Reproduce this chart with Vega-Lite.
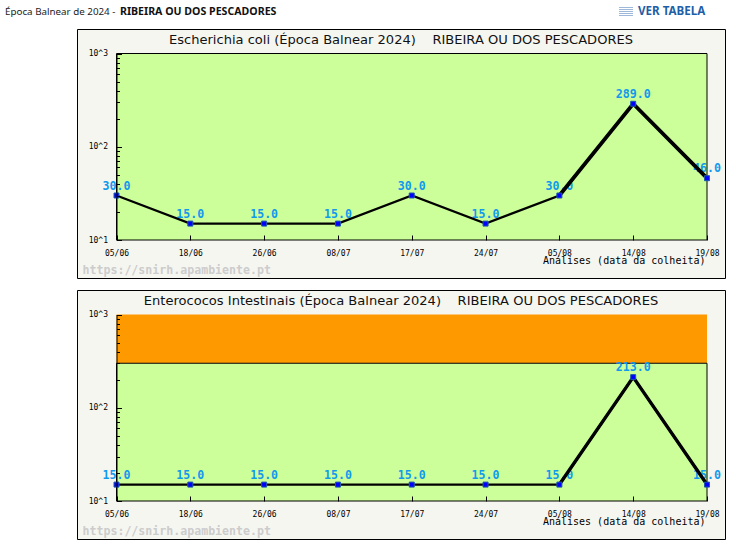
{"$schema":"https://vega.github.io/schema/vega-lite/v6.json","background":"#ffffff","padding":{"left":5,"top":0,"right":0,"bottom":0},"spacing":6,"vconcat":[
{"width":648,"height":22,"view":{"stroke":null,"fill":null},"resolve":{"scale":{"x":"independent"}},"layer":[
{"data":{"values":[{"part":"Época Balnear de 2024 -"}]},"mark":{"type":"text","align":"left","font":"Noto Sans","fontSize":9.8,"color":"#222222","dy":1},"encoding":{"x":{"field":"part","type":"nominal","scale":{"type":"point","range":[-72,-72]},"axis":null},"text":{"field":"part"}}},
{"data":{"values":[{"part":"RIBEIRA OU DOS PESCADORES"}]},"mark":{"type":"text","align":"left","font":"Noto Sans","fontSize":10.6,"fontWeight":"bold","color":"#111111","dy":1},"encoding":{"x":{"field":"part","type":"nominal","scale":{"type":"point","range":[43,43]},"axis":null},"text":{"field":"part"}}},
{"data":{"values":[{"part":"VER TABELA"}]},"mark":{"type":"text","align":"left","font":"Noto Sans","fontSize":11.6,"fontWeight":"bold","color":"#1F5FA8","dy":1},"encoding":{"x":{"field":"part","type":"nominal","scale":{"type":"point","range":[561,561]},"axis":null},"text":{"field":"part"}}},
{"data":{"values":[{"a":0,"b":14,"r":"1"},{"a":0,"b":14,"r":"2"},{"a":0,"b":14,"r":"3"},{"a":0,"b":14,"r":"4"},{"a":0,"b":14,"r":"5"}]},"mark":{"type":"rule","color":"#9DB8D8","strokeWidth":1},"encoding":{"x":{"field":"a","type":"quantitative","scale":{"domain":[0,14],"range":[542,556]},"axis":null},"x2":{"field":"b"},"y":{"field":"r","type":"ordinal","scale":{"type":"point","range":[7.5,15.5],"padding":0},"axis":null}}}
]},
{"vconcat":[
{"width":648,"height":249,"view":{"fill":"#F6F6F1","stroke":"#000000"},
"title":{"text":"Escherichia coli (Época Balnear 2024)\u00a0\u00a0\u00a0\u00a0RIBEIRA OU DOS PESCADORES","font":"DejaVu Sans","fontSize":13.05,"fontWeight":"normal","color":"#111111","anchor":"middle","frame":"group","offset":-18},
"data":{"values":[{"d":"05/06","v":30},{"d":"18/06","v":15},{"d":"26/06","v":15},{"d":"08/07","v":15},{"d":"17/07","v":30},{"d":"24/07","v":15},{"d":"05/08","v":30},{"d":"14/08","v":289},{"d":"19/08","v":46}]},
"resolve":{"axis":{"x":"independent","y":"independent"}},
"layer":[
{"data":{"values":[{"x1":"05/06","x2":"19/08","y1":10,"y2":1000}]},"mark":{"type":"rect","fill":"#CCFF99","stroke":"#000000","strokeWidth":1},"encoding":{"x":{"field":"x1","type":"ordinal","sort":null,"scale":{"type":"point","padding":0,"range":[39.5,630],"domain":["05/06","18/06","26/06","08/07","17/07","24/07","05/08","14/08","19/08"]},"axis":null},"x2":{"field":"x2"},"y":{"field":"y1","type":"quantitative","scale":{"type":"log","domain":[10,1000],"range":[211,24.5],"nice":false},"axis":null},"y2":{"field":"y2"}}},
{"mark":{"type":"text","font":"DejaVu Sans Mono","fontWeight":"bold","fontSize":11.6,"color":"#1199EE","dy":-9},"encoding":{"x":{"field":"d","type":"ordinal","sort":null,"axis":null},"y":{"field":"v","type":"quantitative","axis":null},"text":{"field":"v","format":".1f"}}},
{"transform":[{"filter":{"field":"d","oneOf":["05/08","14/08","19/08"]}}],"mark":{"type":"line","color":"#000000","strokeWidth":3.8},"encoding":{"x":{"field":"d","type":"ordinal","sort":null,"axis":null},"y":{"field":"v","type":"quantitative","axis":null}}},
{"mark":{"type":"line","color":"#000000","strokeWidth":2.2},"encoding":{"x":{"field":"d","type":"ordinal","sort":null,"axis":{"orient":"bottom","offset":-38,"zindex":1,"domain":false,"tickSize":-5,"tickColor":"#000000","labelFont":"DejaVu Sans Mono","labelFontSize":8,"labelColor":"#000000","labelAngle":0,"labelPadding":14.5,"grid":false,"title":"Análises (data da colheita)","titleFont":"DejaVu Sans Mono","titleFontSize":10,"titleFontWeight":"normal","titleColor":"#000000","titleAnchor":"end","titleAlign":"right","titleX":628,"titleY":20,"titleBaseline":"middle"}},"y":{"field":"v","type":"quantitative","axis":{"orient":"left","offset":-39.5,"zindex":1,"values":[10,100,1000],"tickSize":-5,"tickColor":"#000000","domainColor":"#000000","labelFont":"DejaVu Sans Mono","labelFontSize":8,"labelColor":"#000000","labelPadding":14,"grid":false,"title":null,"labelExpr":"'10^' + round(log(datum.value)/LN10)"}}}},
{"mark":{"type":"square","size":25,"opacity":1,"color":"#0000FF","stroke":"#1E5AA8","strokeWidth":1},"encoding":{"x":{"field":"d","type":"ordinal","sort":null,"axis":{"orient":"bottom","offset":-58,"domain":false,"ticks":false,"labels":false,"grid":false,"title":"https://snirh.apambiente.pt","titleFont":"DejaVu Sans Mono","titleFontSize":11.6,"titleFontWeight":"bold","titleColor":"#CCCCCC","titleAnchor":"start","titleAlign":"left","titleX":5,"titleY":50,"titleBaseline":"middle"}},"y":{"field":"v","type":"quantitative","axis":{"orient":"left","offset":-39.5,"zindex":1,"values":[20,30,40,50,60,70,80,90,200,300,400,500,600,700,800,900],"tickSize":-3,"tickColor":"#000000","domain":false,"labels":false,"grid":false,"title":null}}}}
]},
{"width":648,"height":249,"view":{"fill":"#F6F6F1","stroke":"#000000"},
"title":{"text":"Enterococos Intestinais (Época Balnear 2024)\u00a0\u00a0\u00a0\u00a0RIBEIRA OU DOS PESCADORES","font":"DejaVu Sans","fontSize":13.05,"fontWeight":"normal","color":"#111111","anchor":"middle","frame":"group","offset":-18},
"data":{"values":[{"d":"05/06","v":15},{"d":"18/06","v":15},{"d":"26/06","v":15},{"d":"08/07","v":15},{"d":"17/07","v":15},{"d":"24/07","v":15},{"d":"05/08","v":15},{"d":"14/08","v":213},{"d":"19/08","v":15}]},
"resolve":{"axis":{"x":"independent","y":"independent"}},
"layer":[
{"data":{"values":[{"x1":"05/06","x2":"19/08","y1":300,"y2":1000}]},"mark":{"type":"rect","fill":"#FF9900"},"encoding":{"x":{"field":"x1","type":"ordinal","sort":null,"scale":{"type":"point","padding":0,"range":[39.5,630],"domain":["05/06","18/06","26/06","08/07","17/07","24/07","05/08","14/08","19/08"]},"axis":null},"x2":{"field":"x2"},"y":{"field":"y1","type":"quantitative","scale":{"type":"log","domain":[10,1000],"range":[211,24.5],"nice":false},"axis":null},"y2":{"field":"y2"}}},
{"data":{"values":[{"x1":"05/06","x2":"19/08","y1":10,"y2":300}]},"mark":{"type":"rect","fill":"#CCFF99","stroke":"#000000","strokeWidth":1},"encoding":{"x":{"field":"x1","type":"ordinal","sort":null,"axis":null},"x2":{"field":"x2"},"y":{"field":"y1","type":"quantitative","axis":null},"y2":{"field":"y2"}}},
{"mark":{"type":"text","font":"DejaVu Sans Mono","fontWeight":"bold","fontSize":11.6,"color":"#1199EE","dy":-9},"encoding":{"x":{"field":"d","type":"ordinal","sort":null,"axis":null},"y":{"field":"v","type":"quantitative","axis":null},"text":{"field":"v","format":".1f"}}},
{"transform":[{"filter":{"field":"d","oneOf":["05/08","14/08","19/08"]}}],"mark":{"type":"line","color":"#000000","strokeWidth":3.4},"encoding":{"x":{"field":"d","type":"ordinal","sort":null,"axis":null},"y":{"field":"v","type":"quantitative","axis":null}}},
{"mark":{"type":"line","color":"#000000","strokeWidth":2.2},"encoding":{"x":{"field":"d","type":"ordinal","sort":null,"axis":{"orient":"bottom","offset":-38,"zindex":1,"domain":false,"tickSize":-5,"tickColor":"#000000","labelFont":"DejaVu Sans Mono","labelFontSize":8,"labelColor":"#000000","labelAngle":0,"labelPadding":14.5,"grid":false,"title":"Análises (data da colheita)","titleFont":"DejaVu Sans Mono","titleFontSize":10,"titleFontWeight":"normal","titleColor":"#000000","titleAnchor":"end","titleAlign":"right","titleX":628,"titleY":20,"titleBaseline":"middle"}},"y":{"field":"v","type":"quantitative","axis":{"orient":"left","offset":-39.5,"zindex":1,"values":[10,100,1000],"tickSize":-5,"tickColor":"#000000","domainColor":"#000000","labelFont":"DejaVu Sans Mono","labelFontSize":8,"labelColor":"#000000","labelPadding":14,"grid":false,"title":null,"labelExpr":"'10^' + round(log(datum.value)/LN10)"}}}},
{"mark":{"type":"square","size":25,"opacity":1,"color":"#0000FF","stroke":"#1E5AA8","strokeWidth":1},"encoding":{"x":{"field":"d","type":"ordinal","sort":null,"axis":{"orient":"bottom","offset":-58,"domain":false,"ticks":false,"labels":false,"grid":false,"title":"https://snirh.apambiente.pt","titleFont":"DejaVu Sans Mono","titleFontSize":11.6,"titleFontWeight":"bold","titleColor":"#CCCCCC","titleAnchor":"start","titleAlign":"left","titleX":5,"titleY":50,"titleBaseline":"middle"}},"y":{"field":"v","type":"quantitative","axis":{"orient":"left","offset":-39.5,"zindex":1,"values":[20,30,40,50,60,70,80,90,200,300,400,500,600,700,800,900],"tickSize":-3,"tickColor":"#000000","domain":false,"labels":false,"grid":false,"title":null}}}}
]}
],"spacing":10}
]}
